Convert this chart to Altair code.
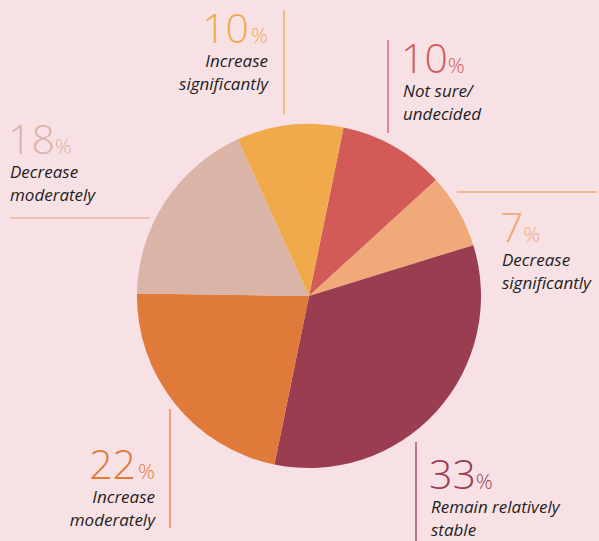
import math
import altair as alt
import pandas as pd

# ---- data ----
categories = ["Not sure/ undecided", "Decrease significantly", "Remain relatively stable",
              "Increase moderately", "Decrease moderately", "Increase significantly"]
values = [10, 7, 33, 22, 18, 10]
slice_colors = ["#d35b57", "#f0a978", "#9b3d51", "#df7a3b", "#dbb4a8", "#f0aa4c"]
label_lines = [["Not sure/", "undecided"], ["Decrease", "significantly"],
               ["Remain relatively", "stable"], ["Increase", "moderately"],
               ["Decrease", "moderately"], ["Increase", "significantly"]]

# ---- layout (annotation placement, pixels) ----
W, H = 599, 541
CX, CY, R = 309, 296, 172
START = math.radians(11.6)
BG = "#f8e1e4"
# anchor x, number baseline y, alignment
anchors = [(403, 73, "left"), (502, 242, "left"), (431, 489, "left"),
           (155, 479, "right"), (10, 154, "left"), (268, 43, "right")]
line_colors = ["#d35b57", "#f0a978", "#9b3d51", "#df7a3b", "#ebb598", "#f0aa4c"]
leaders = [(388, 40, 388, 133), (457, 192, 597, 192), (416, 442, 416, 541),
           (170, 409, 170, 528), (10, 218, 150, 218), (284, 10, 284, 114)]
NUM_SIZE, PCT_SIZE, LBL_SIZE = 41, 21, 17
DIGIT_W = 0.57 * NUM_SIZE

pie_df = pd.DataFrame({"cat": categories, "value": values,
                       "order": list(range(len(categories)))})

rows = []
for i, cat in enumerate(categories):
    ax, ay, al = anchors[i]
    num = str(values[i])
    numw = DIGIT_W * len(num) - 2
    if al == "left":
        rows.append(dict(kind="num", align=al, x=ax - 2, y=ay, text=num, color=slice_colors[i]))
        rows.append(dict(kind="pct", align=al, x=ax + numw, y=ay, text="%", color=slice_colors[i]))
    else:
        rows.append(dict(kind="num", align=al, x=ax - 19, y=ay, text=num, color=slice_colors[i]))
        rows.append(dict(kind="pct", align=al, x=ax, y=ay, text="%", color=slice_colors[i]))
    for j, ln in enumerate(label_lines[i]):
        rows.append(dict(kind="lbl", align=al, x=ax, y=ay + 24 + 23 * j, text=ln, color="#1e1e1e"))
annot = pd.DataFrame(rows)

rule_df = pd.DataFrame({"x": [l[0] for l in leaders], "y": [l[1] for l in leaders],
                        "x2": [l[2] for l in leaders], "y2": [l[3] for l in leaders],
                        "color": line_colors})

pie = alt.Chart(pie_df).mark_arc(outerRadius=R).encode(
    theta=alt.Theta("value:Q", stack=True,
                    scale=alt.Scale(domain=[0, 100], range=[START, START + 2 * math.pi])),
    color=alt.Color("cat:N", scale=alt.Scale(domain=categories, range=slice_colors), legend=None),
    order=alt.Order("order:Q"),
    x=alt.value(CX), y=alt.value(CY),
)

rules = alt.Chart(rule_df).mark_rule(strokeWidth=1.3).encode(
    x=alt.X("x:Q", scale=None), y=alt.Y("y:Q", scale=None),
    x2="x2:Q", y2="y2:Q",
    color=alt.Color("color:N", scale=None),
)

def text_layer(kind, align, **props):
    return alt.Chart(annot).transform_filter(
        (alt.datum.kind == kind) & (alt.datum.align == align)
    ).mark_text(align=align, baseline="alphabetic", **props).encode(
        x=alt.X("x:Q", scale=None), y=alt.Y("y:Q", scale=None),
        text="text:N", color=alt.Color("color:N", scale=None),
    )

layers = [pie, rules]
for al in ["left", "right"]:
    layers.append(text_layer("num", al, font="Open Sans", fontSize=NUM_SIZE, fontWeight=300))
    layers.append(text_layer("pct", al, font="Open Sans", fontSize=PCT_SIZE, fontWeight=300))
    layers.append(text_layer("lbl", al, font="Open Sans", fontSize=LBL_SIZE, fontStyle="italic"))

chart = alt.layer(*layers).properties(
    width=W, height=H, autosize=alt.AutoSizeParams(type="none"), padding=0,
    background=BG,
).configure_view(stroke=None)

chart.save("out.html", embed_options={"renderer": "svg", "actions": False})
